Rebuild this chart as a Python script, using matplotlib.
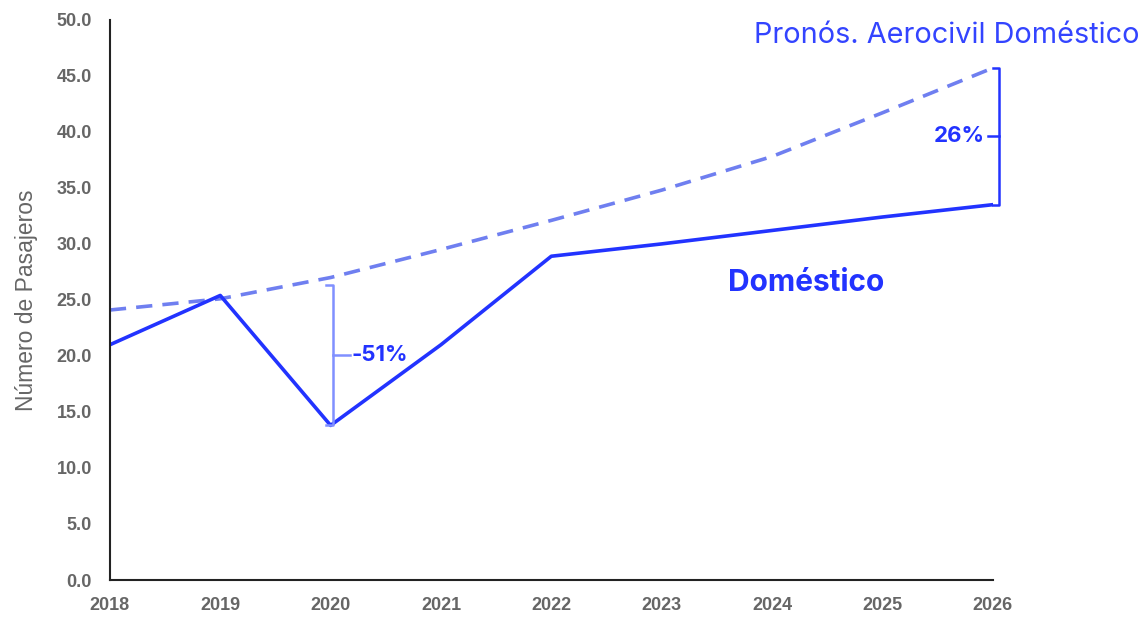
import matplotlib.pyplot as plt
import numpy as np

years = [2018, 2019, 2020, 2021, 2022, 2023, 2024, 2025, 2026]
domestico = [21.0, 25.4, 13.8, 21.0, 28.9, 30.0, 31.2, 32.4, 33.5]
pronostico = [24.1, 25.1, 27.0, 29.5, 32.1, 34.8, 37.8, 41.7, 45.7]
yticks = np.arange(0, 55, 5)

solid_c = "#2233ff"
dash_c = "#6f7ff0"
light_c = "#8090ff"
gray = "#666666"

fig = plt.figure(figsize=(11.45, 6.2), dpi=100)
ax = fig.add_axes([0.096, 0.0645, 0.771, 0.9035])

ax.plot(years, pronostico, color=dash_c, lw=2.6, dashes=(4.5, 2.8))
ax.plot(years, domestico, color=solid_c, lw=2.6)

ax.set_xlim(2018, 2026)
ax.set_ylim(0, 50)
ax.set_xticks(years)
ax.set_yticks(yticks)
ax.set_yticklabels([f"{v:.1f}" for v in yticks])
for s in ["top", "right"]:
    ax.spines[s].set_visible(False)
for s in ["left", "bottom"]:
    ax.spines[s].set_linewidth(1.5)
    ax.spines[s].set_color("#222222")
ax.tick_params(axis="y", length=0, pad=13)
ax.tick_params(axis="x", length=0, pad=12)
for lab in ax.get_xticklabels() + ax.get_yticklabels():
    lab.set_family("Liberation Sans")
    lab.set_weight("bold")
    lab.set_color(gray)
    lab.set_fontsize(13)
ax.set_ylabel("Número de Pasajeros", color=gray, fontsize=16.5, family="Liberation Sans")
ax.yaxis.set_label_coords(-0.081, 0.5)

# bracket 2019 -> 2020 drop
i20 = years.index(2020)
x0 = years[i20] + 0.02
ytop, ybot = 26.3, domestico[i20]
ax.plot([x0 - 0.06, x0, x0, x0 - 0.06], [ytop, ytop, ybot, ybot], color=light_c, lw=1.8, clip_on=False)
ymid = (ytop + ybot) / 2
ax.plot([x0, x0 + 0.16], [ymid, ymid], color=light_c, lw=1.8)
ax.text(x0 + 0.17, ymid, "-51%", color=solid_c, fontsize=16, weight="bold", family="Inter",
        va="center", ha="left")

# bracket 2026 gap
x1 = 2026.06
ya, yb = pronostico[-1], domestico[-1]
ax.plot([x1 - 0.06, x1, x1, x1 - 0.06], [ya, ya, yb, yb], color=solid_c, lw=1.8, clip_on=False)
ym = (ya + yb) / 2
ax.plot([x1, x1 - 0.1], [ym, ym], color=solid_c, lw=1.8, clip_on=False)
ax.text(x1 - 0.13, ym, "26%", color=solid_c, fontsize=16, weight="bold", family="Inter",
        va="center", ha="right")

ax.text(2023.84, 48.6, "Pronós. Aerocivil Doméstico", color="#3344ff", fontsize=20.8,
        family="Inter", va="center", ha="left", clip_on=False)
ax.text(2023.6, 26.5, "Doméstico", color=solid_c, fontsize=21.5, weight="bold",
        family="Inter", va="center", ha="left")

fig.savefig("out.png", dpi=100)
